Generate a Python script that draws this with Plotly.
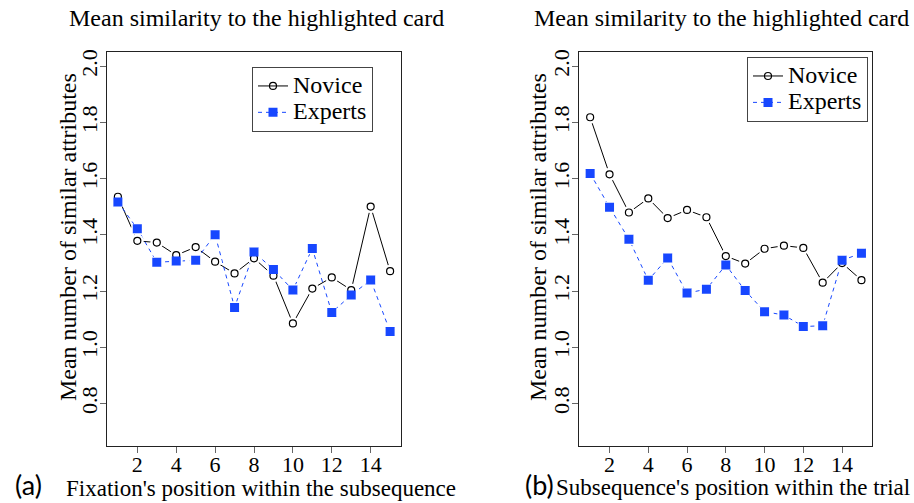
import plotly.graph_objects as go

positions = list(range(1, 16))

# Panel (a): Fixation's position within the subsequence
novice_a = [1.536, 1.379, 1.373, 1.328, 1.357, 1.305, 1.263, 1.317, 1.255, 1.085, 1.209, 1.249, 1.204, 1.501, 1.271]
experts_a = [1.517, 1.422, 1.303, 1.307, 1.310, 1.401, 1.142, 1.339, 1.277, 1.204, 1.352, 1.124, 1.186, 1.240, 1.056]

# Panel (b): Subsequence's position within the trial
novice_b = [1.819, 1.616, 1.480, 1.530, 1.460, 1.489, 1.463, 1.325, 1.298, 1.351, 1.362, 1.354, 1.230, 1.300, 1.239]
experts_b = [1.619, 1.499, 1.385, 1.239, 1.318, 1.193, 1.207, 1.293, 1.202, 1.127, 1.115, 1.074, 1.077, 1.310, 1.335]

x_ticks = [2, 4, 6, 8, 10, 12, 14]
y_ticks = [0.8, 1.0, 1.2, 1.4, 1.6, 1.8, 2.0]
y_tick_labels = ["0.8", "1.0", "1.2", "1.4", "1.6", "1.8", "2.0"]

series_names = ["Novice", "Experts"]
title_text = "Mean similarity to the highlighted card"
ytitle_text = "Mean number of similar attributes"
xtitle_a = "Fixation's position within the subsequence"
xtitle_b = "Subsequence's position within the trial"

SERIF = "Liberation Serif, Times New Roman, serif"
SANS = "Lato, Open Sans, sans-serif"
BLUE = "#1747ff"
W, H = 914, 503

fig = go.Figure()

def leg_label(s):
    return '<span style="font-size:24px">%s</span>' % s

def add_panel(nov, exp, xa, ya, leg):
    # full series (line + marker), these give the legend entries
    fig.add_trace(go.Scatter(
        x=positions, y=nov, mode="lines+markers", name=leg_label(series_names[0]),
        line=dict(color="black", width=1),
        marker=dict(symbol="circle-open", size=7, color="black", line=dict(width=1.2)),
        xaxis=xa, yaxis=ya, legend=leg))
    fig.add_trace(go.Scatter(
        x=positions, y=exp, mode="lines+markers", name=leg_label(series_names[1]),
        line=dict(color=BLUE, width=1, dash="4px,4px"),
        marker=dict(symbol="square", size=9, color=BLUE),
        xaxis=xa, yaxis=ya, legend=leg))
    # white halos: line gaps around each point (R type="b" look)
    for vals in (nov, exp):
        fig.add_trace(go.Scatter(
            x=positions, y=vals, mode="markers", showlegend=False, hoverinfo="skip",
            marker=dict(symbol="circle", size=13, color="white", line=dict(width=0)),
            xaxis=xa, yaxis=ya))
    # points redrawn on top of the halos
    fig.add_trace(go.Scatter(
        x=positions, y=nov, mode="markers", showlegend=False,
        marker=dict(symbol="circle-open", size=7, color="black", line=dict(width=1.2)),
        xaxis=xa, yaxis=ya))
    fig.add_trace(go.Scatter(
        x=positions, y=exp, mode="markers", showlegend=False,
        marker=dict(symbol="square", size=9, color=BLUE),
        xaxis=xa, yaxis=ya))

add_panel(novice_a, experts_a, "x", "y", "legend")
add_panel(novice_b, experts_b, "x2", "y2", "legend2")

def px_x(p):
    return p / W

def px_y(p):
    return 1 - p / H

axis_common = dict(
    showline=True, mirror=True, linecolor="#222", linewidth=1.2,
    ticks="outside", ticklen=6, tickcolor="#666", tickwidth=1,
    showgrid=False, zeroline=False,
    tickfont=dict(family=SERIF, size=22, color="black"),
)

legend_common = dict(
    xanchor="right", yanchor="top",
    bordercolor="#444", borderwidth=1, bgcolor="white",
    font=dict(family=SERIF, size=18, color="black"),
    itemwidth=30, tracegroupgap=0,
)

fig.update_layout(
    width=W, height=H,
    margin=dict(l=0, r=0, t=0, b=0),
    paper_bgcolor="white", plot_bgcolor="white",
    xaxis=dict(domain=[px_x(107), px_x(401)], range=[0.44, 15.56],
               tickvals=x_ticks, anchor="y", ticklabelstandoff=-8, **axis_common),
    yaxis=dict(domain=[px_y(446), px_y(50)], range=[0.648, 2.052],
               tickvals=y_ticks, ticktext=y_tick_labels, tickangle=-90,
               anchor="x", ticklabelstandoff=-6, **axis_common),
    xaxis2=dict(domain=[px_x(579.3), px_x(872.3)], range=[0.44, 15.56],
                tickvals=x_ticks, anchor="y2", ticklabelstandoff=-8, **axis_common),
    yaxis2=dict(domain=[px_y(446), px_y(50)], range=[0.648, 2.052],
                tickvals=y_ticks, ticktext=y_tick_labels, tickangle=-90,
                anchor="x2", ticklabelstandoff=-6, **axis_common),
    legend=dict(x=px_x(373), y=px_y(65), **legend_common),
    legend2=dict(x=px_x(868), y=px_y(55), **legend_common),
    showlegend=True,
)

ann = []
for cx in (256, 721):
    ann.append(dict(text=title_text, x=px_x(cx), y=px_y(16), xref="paper", yref="paper",
                    showarrow=False, xanchor="center", yanchor="middle",
                    font=dict(family=SERIF, size=24, color="black")))
for cx in (68, 538):
    ann.append(dict(text=ytitle_text, x=px_x(cx), y=px_y(236), xref="paper", yref="paper",
                    showarrow=False, xanchor="center", yanchor="middle", textangle=-90,
                    font=dict(family=SERIF, size=24, color="black")))
ann.append(dict(text=xtitle_a, x=px_x(261), y=px_y(488), xref="paper", yref="paper",
                showarrow=False, xanchor="center", yanchor="middle",
                font=dict(family=SERIF, size=23, color="black")))
ann.append(dict(text=xtitle_b, x=px_x(733), y=px_y(487), xref="paper", yref="paper",
                showarrow=False, xanchor="center", yanchor="middle",
                font=dict(family=SERIF, size=23, color="black")))
ann.append(dict(text="(a)", x=px_x(28), y=px_y(484), xref="paper", yref="paper",
                showarrow=False, xanchor="center", yanchor="middle",
                font=dict(family=SANS, size=27, color="black")))
ann.append(dict(text="(b)", x=px_x(539), y=px_y(484), xref="paper", yref="paper",
                showarrow=False, xanchor="center", yanchor="middle",
                font=dict(family=SANS, size=27, color="black")))
fig.update_layout(annotations=ann)

fig.write_html(
    "out.html",
    config={"displayModeBar": False},
    post_script="document.body.style.margin='0px';document.body.style.overflow='hidden';",
)
